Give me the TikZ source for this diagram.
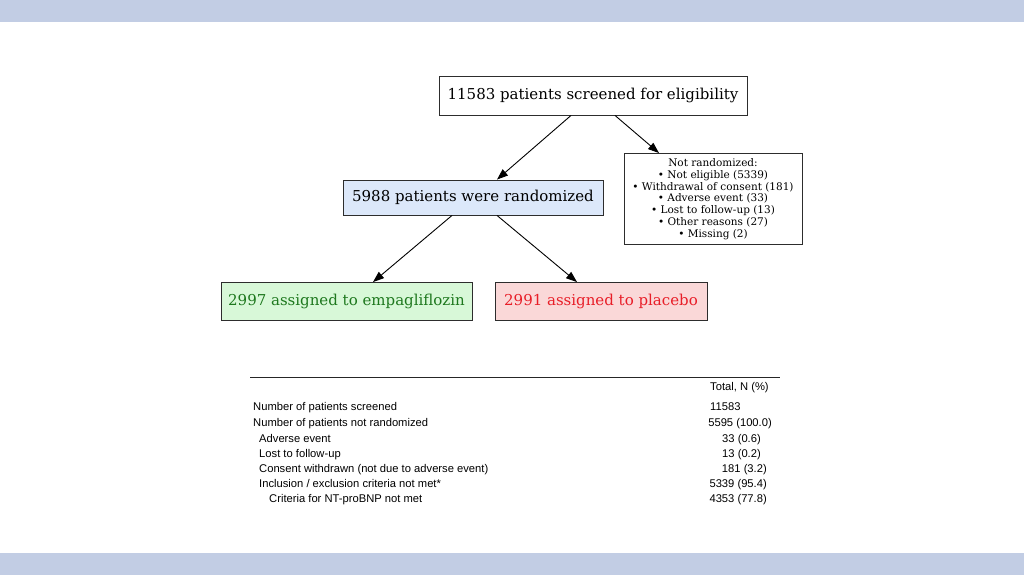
\documentclass[tikz,border=0pt]{standalone}
\usepackage{fontspec}
\setmainfont{DejaVu Serif}
\newfontfamily\tabfont{Liberation Sans}
\usetikzlibrary{arrows.meta}
\definecolor{band}{RGB}{194,205,228}
\definecolor{boxline}{RGB}{45,45,45}
\definecolor{randfill}{RGB}{220,232,250}
\definecolor{empfill}{RGB}{216,248,216}
\definecolor{emptext}{RGB}{30,120,30}
\definecolor{placfill}{RGB}{250,216,216}
\definecolor{plactext}{RGB}{232,30,40}
\tikzset{
  flowbox/.style={draw=boxline, line width=0.9pt, rectangle, inner sep=0pt, align=center, font=\fontsize{15}{18}\selectfont},
  flowarrow/.style={line width=0.9pt, -{Triangle[length=11pt,width=8pt]}},
  tabtext/.style={inner sep=0pt, text height=8.5pt, text depth=2.5pt, font=\tabfont\fontsize{11.2}{13}\selectfont},
}
\begin{document}
\begin{tikzpicture}[x=1pt,y=-1pt]
\useasboundingbox (0,0) rectangle (1024,575);
\fill[white] (0,0) rectangle (1024,575);
\fill[band] (0,0) rectangle (1024,22.5);
\fill[band] (0,552.5) rectangle (1024,575);

\node[flowbox, minimum width=308pt, minimum height=39pt] (top) at (593,95.5) {\raisebox{-0.6pt}{11583 patients screened for eligibility}};
\node[flowbox, minimum width=178pt, minimum height=91pt, font=\fontsize{10.5}{11.8}\selectfont] (notrand) at (713,199)
  {Not randomized:\\ • Not eligible (5339)\\ • Withdrawal of consent (181)\\ • Adverse event (33)\\ • Lost to follow-up (13)\\ • Other reasons (27)\\ • Missing (2)};
\node[flowbox, fill=randfill, minimum width=260pt, minimum height=35pt] (rand) at (473,197.5) {5988 patients were randomized};
\node[flowbox, fill=empfill, text=emptext, minimum width=251pt, minimum height=38pt] (emp) at (346.5,301.5) {2997 assigned to empagliflozin};
\node[flowbox, fill=placfill, text=plactext, minimum width=212pt, minimum height=38pt] (plac) at (601,301.5) {2991 assigned to placebo};

\draw[flowarrow] ([xshift=-22pt]top.south) -- ([xshift=24pt]rand.north);
\draw[flowarrow] ([xshift=22pt]top.south) -- ([xshift=-54pt]notrand.north);
\draw[flowarrow] ([xshift=-21pt]rand.south) -- ([xshift=26.5pt]emp.north);
\draw[flowarrow] ([xshift=24pt]rand.south) -- ([xshift=-24pt]plac.north);

% table
\coordinate (ruleL) at (250,377);
\coordinate (ruleR) at (780,377);
\draw[line width=0.9pt, black!85] (ruleL) -- (ruleR);
\node[tabtext, anchor=west] (hTot) at (710,387) {Total, N (\%)};
\node[tabtext, anchor=west] (r1) at (253,407) {Number of patients screened};
\node[tabtext, anchor=west] (r2) at (253,423) {Number of patients not randomized};
\node[tabtext, anchor=west] (r3) at (259,439) {Adverse event};
\node[tabtext, anchor=west] (r4) at (259,454) {Lost to follow-up};
\node[tabtext, anchor=west] (r5) at (259,469) {Consent withdrawn (not due to adverse event)};
\node[tabtext, anchor=west] (r6) at (259,484) {Inclusion / exclusion criteria not met*};
\node[tabtext, anchor=west] (r7) at (269,499) {Criteria for NT-proBNP not met};
\node[tabtext, anchor=west] (v1) at (710,407) {11583};
\node[tabtext, anchor=east] (v2) at (772,423) {5595 (100.0)};
\node[tabtext, anchor=east] (v3) at (761,439) {33 (0.6)};
\node[tabtext, anchor=east] (v4) at (761,454) {13 (0.2)};
\node[tabtext, anchor=east] (v5) at (767,469) {181 (3.2)};
\node[tabtext, anchor=east] (v6) at (767,484) {5339 (95.4)};
\node[tabtext, anchor=east] (v7) at (767,499) {4353 (77.8)};
\end{tikzpicture}
\end{document}
